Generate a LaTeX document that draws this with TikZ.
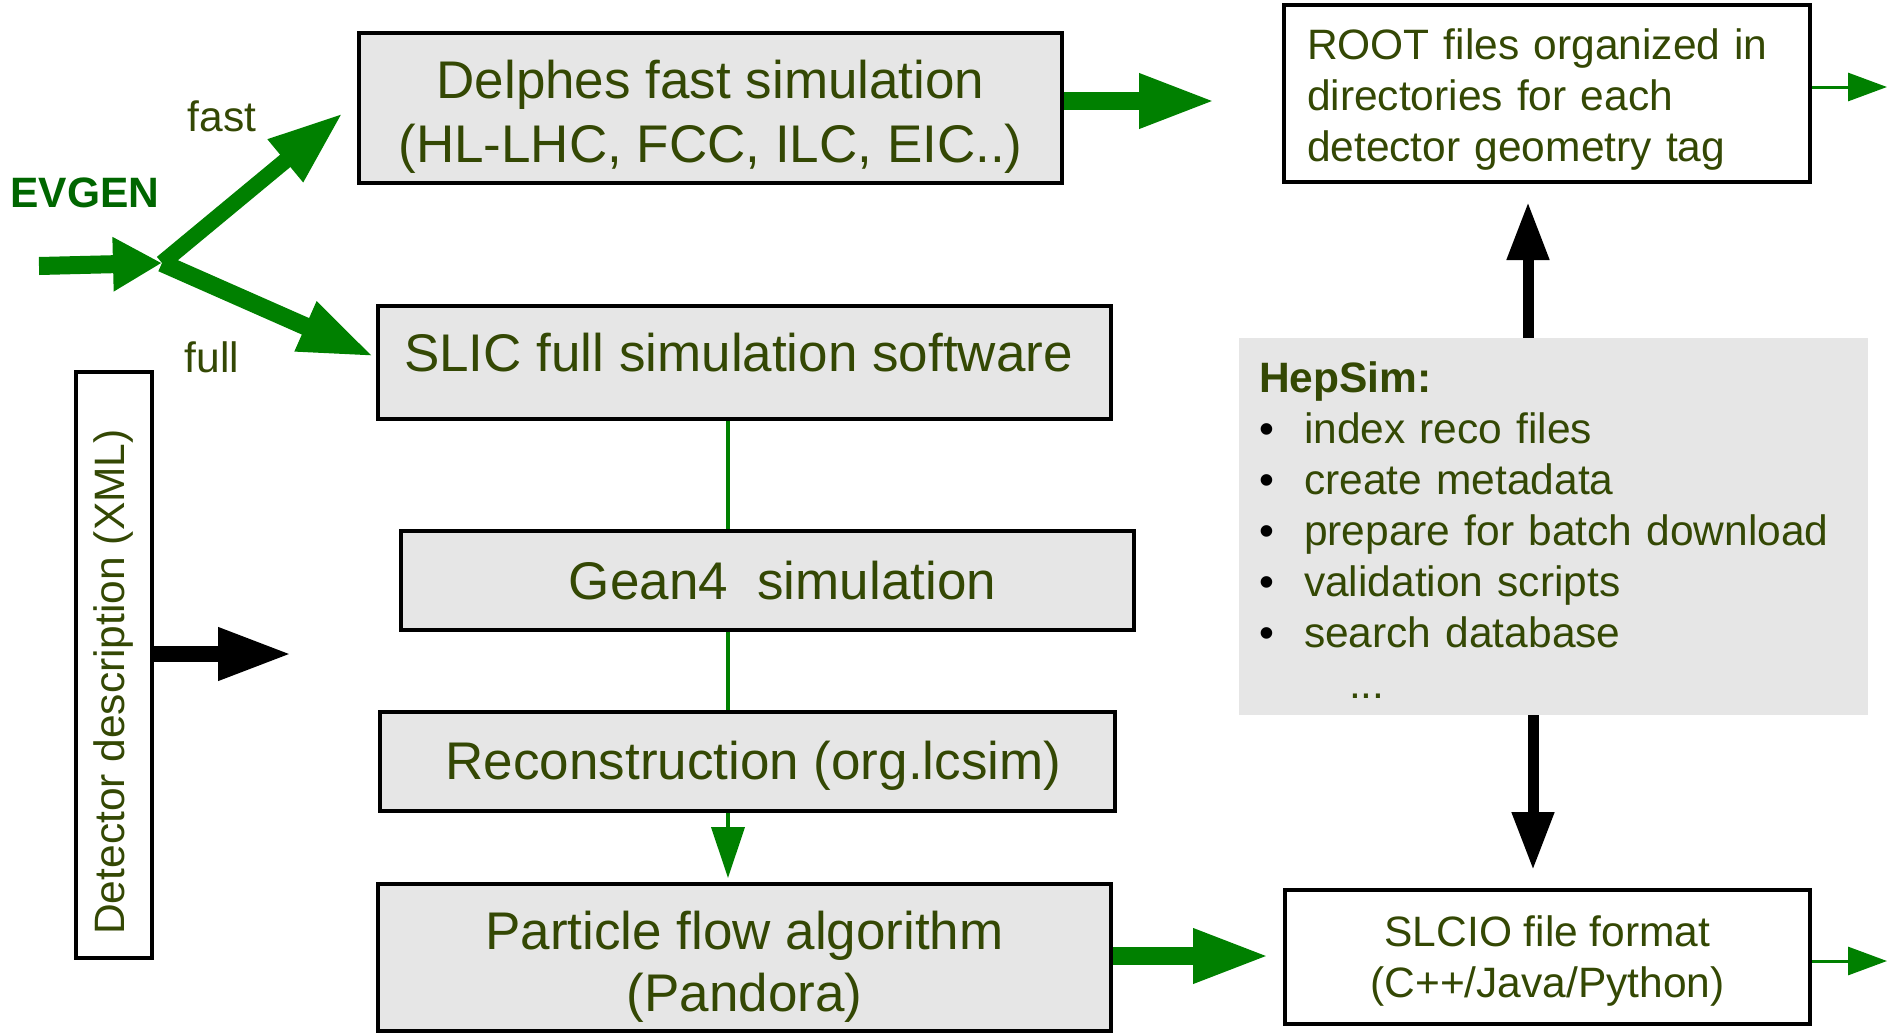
\documentclass[tikz,border=0pt]{standalone}
\usepackage{fontspec}
\setmainfont{Liberation Sans}
\usetikzlibrary{arrows.meta}
\definecolor{olivetext}{RGB}{52,72,4}
\definecolor{flowgreen}{RGB}{0,128,0}
\definecolor{evgreen}{RGB}{0,102,0}
\definecolor{boxgray}{RGB}{230,230,230}
\newcommand{\boxfnt}{\fontsize{53}{64}\selectfont}
\newcommand{\notefnt}{\fontsize{42.5}{51}\selectfont}
\begin{document}
\begin{tikzpicture}[x=1pt,y=-1pt,
  graybox/.style={draw,line width=4pt,fill=boxgray,text=olivetext,font=\boxfnt,align=center,inner sep=0pt},
  whitebox/.style={draw,line width=4pt,fill=white,text=olivetext,font=\notefnt,inner sep=0pt},
  bigarrow/.style={flowgreen,line width=18pt,-{Triangle[length=77pt,width=50pt]}},
  thinarrow/.style={flowgreen,line width=3pt,-{Triangle[length=39pt,width=28pt]}},
  blackarrow/.style={black,line width=11pt,-{Triangle[length=58pt,width=40pt]}},
  lbl/.style={text=olivetext,font=\notefnt,inner sep=0pt}]
\useasboundingbox (0,0) rectangle (1888,1034);
\node[graybox,minimum width=703pt,minimum height=150pt] (delphes) at (710.5,108) {\rule{0pt}{55pt}Delphes fast simulation\\(HL-LHC, FCC, ILC, EIC..)};
\node[graybox,minimum width=733pt,minimum height=113pt,text depth=20pt] (slic) at (744.5,362.5) {SLIC full simulation software\hspace*{12pt}};
\node[graybox,minimum width=733pt,minimum height=99pt] (gean) at (767.5,580.5) {\hspace*{30pt}Gean4\ \ simulation};
\node[graybox,minimum width=735pt,minimum height=99pt,text height=47pt] (reco) at (747.5,761.5) {\hspace*{12pt}Reconstruction (org.lcsim)};
\node[graybox,minimum width=733pt,minimum height=147pt] (pfa) at (744.5,957.5) {\rule{0pt}{56pt}Particle flow algorithm\\[-2pt](Pandora)};
\node[whitebox,minimum width=526pt,minimum height=177pt,text width=480pt,text height=43pt,align=left,inner xsep=23pt] (root) at (1547,93.5) {ROOT files organized in\\directories for each\\detector geometry tag};
\node[fill=boxgray,minimum width=629pt,minimum height=377pt,text width=589pt,text height=38pt,inner xsep=20pt,inner ysep=0pt,align=left,text=olivetext,font=\notefnt] (hepsim) at (1553.5,526.5) {\textbf{HepSim:}\\
  \makebox[45pt][l]{\textcolor{black}{•}}index reco files\\
  \makebox[45pt][l]{\textcolor{black}{•}}create metadata\\
  \makebox[45pt][l]{\textcolor{black}{•}}prepare for batch download\\
  \makebox[45pt][l]{\textcolor{black}{•}}validation scripts\\
  \makebox[45pt][l]{\textcolor{black}{•}}search database\\
  \hspace*{90pt}...};
\node[whitebox,minimum width=525pt,minimum height=134pt,align=center] (slcio) at (1547.5,957) {\rule{0pt}{38pt}SLCIO file format\\(C++/Java/Python)};
\node[whitebox,rotate=90,minimum width=586pt,minimum height=76pt] (det) at (114,665) {Detector description (XML)\hspace*{34pt}};
\node[text=evgreen,font=\notefnt\bfseries,inner sep=0pt] (evgen) at (85,193) {EVGEN};
\node[lbl] (fast) at (222,116) {fast};
\node[lbl] (full) at (212,357) {full};
% end points
\coordinate (start) at (39,266);
\coordinate (split) at (162,263);
\coordinate (fasttip) at (343,113);
\coordinate (fulltip) at (375,357);
\coordinate (delphtip) at (1216,101);
\coordinate (pfatip) at (1270,956);
\coordinate (rootout) at (1887,87);
\coordinate (slcioout) at (1887,961);
\coordinate (uptip) at (1528,202);
\coordinate (downtip) at (1533,870);
\coordinate (dettip) at (292,654);
\coordinate (lane) at (728,0);
% green flow
\draw[bigarrow,-{Triangle[length=49pt,width=51pt]}] (start) -- (split);
\draw[bigarrow,line width=16pt,-{Triangle[length=75pt,width=51pt]}] (split) -- (fasttip);
\draw[bigarrow,line width=18pt,-{Triangle[length=76pt,width=49pt]}] (split) -- (fulltip);
\draw[bigarrow] (delphes.east |- delphtip) -- (delphtip);
\draw[bigarrow] (pfa.east |- pfatip) -- (pfatip);
\draw[thinarrow] (root.east |- rootout) -- (rootout);
\draw[thinarrow] (slcio.east |- slcioout) -- (slcioout);
\draw[flowgreen,line width=4pt] (slic.south -| lane) -- (gean.north -| lane);
\draw[flowgreen,line width=4pt] (gean.south -| lane) -- (reco.north -| lane);
\draw[flowgreen,line width=4pt,-{Triangle[length=51pt,width=33pt]},shorten >=4pt] (reco.south -| lane) -- (pfa.north -| lane);
% black arrows
\draw[blackarrow] (hepsim.north -| uptip) -- (uptip);
\draw[blackarrow] (hepsim.south -| downtip) -- (downtip);
\draw[blackarrow,line width=16pt,-{Triangle[length=74pt,width=49pt]}] (det.south |- dettip) -- (dettip);
\end{tikzpicture}
\end{document}
